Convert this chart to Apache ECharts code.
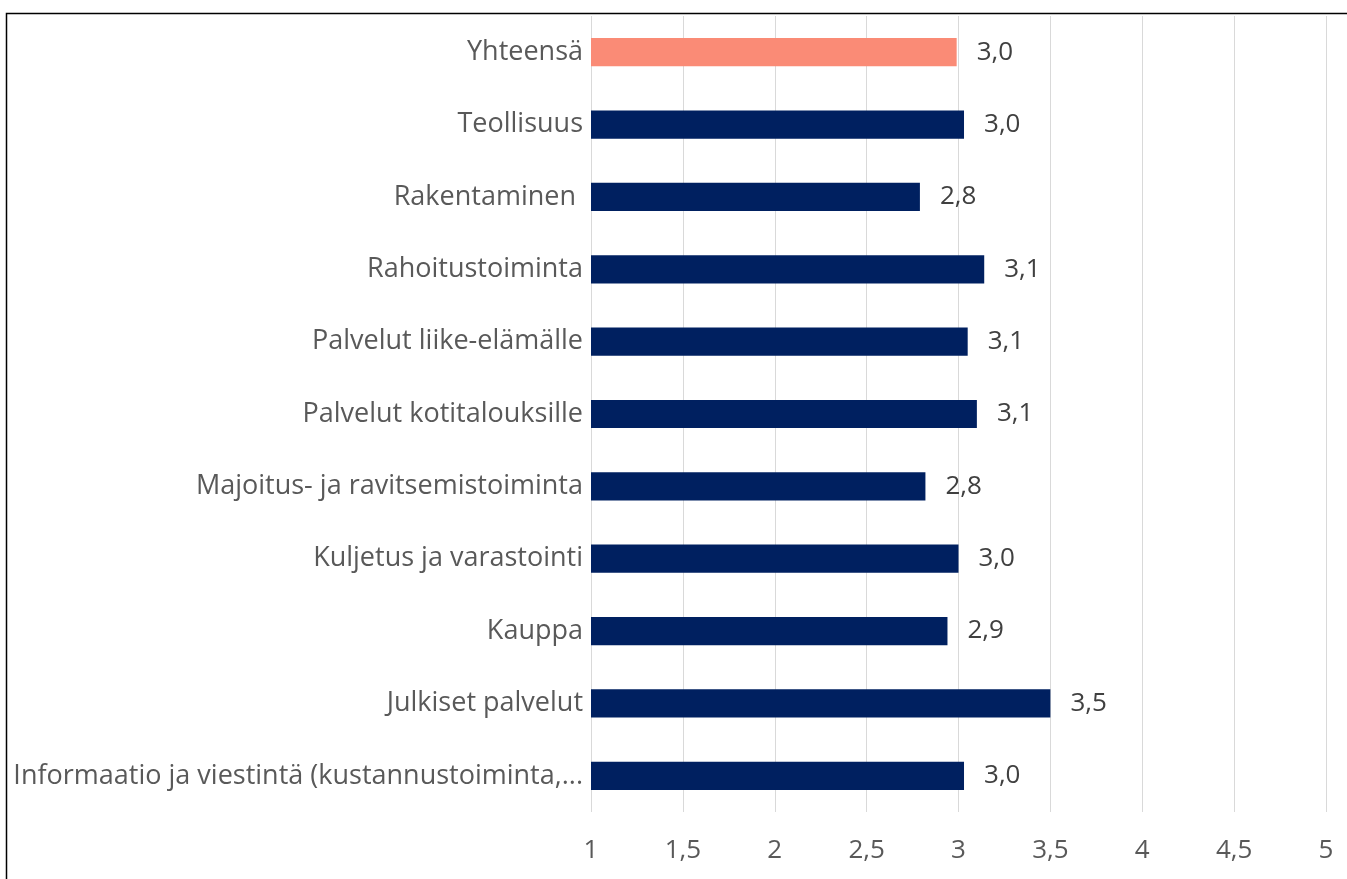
<!DOCTYPE html>
<html><head><meta charset="utf-8">
<script src="https://cdn.jsdelivr.net/npm/echarts@6/dist/echarts.min.js"></script>
<style>html,body{margin:0;padding:0;background:#fff;}#c{width:1347px;height:879px;}</style>
</head><body><div id="c"></div>
<script>
const categories = ["Yhteensä","Teollisuus","Rakentaminen ","Rahoitustoiminta","Palvelut liike-elämälle","Palvelut kotitalouksille","Majoitus- ja ravitsemistoiminta","Kuljetus ja varastointi","Kauppa","Julkiset palvelut","Informaatio ja viestintä (kustannustoiminta,..."];
const values = [2.99, 3.03, 2.79, 3.14, 3.05, 3.10, 2.82, 3.00, 2.94, 3.50, 3.03];
const valueLabels = ["3,0","3,0","2,8","3,1","3,1","3,1","2,8","3,0","2,9","3,5","3,0"];
const tickLabels = {"1":"1","1.5":"1,5","2":"2","2.5":"2,5","3":"3","3.5":"3,5","4":"4","4.5":"4,5","5":"5"};
const barColors = ["#FA8B76","#002060","#002060","#002060","#002060","#002060","#002060","#002060","#002060","#002060","#002060"];

const FONT = "'Open Sans', sans-serif";
const chart = echarts.init(document.getElementById('c'));
chart.setOption({
  animation: false,
  backgroundColor: '#fff',
  graphic: [{type:'rect', shape:{x:6.5,y:13.5,width:1400,height:1000}, style:{fill:'none',stroke:'#000',lineWidth:1.5}, z:-1}],
  grid: {left:591, right:21, top:16, bottom:67, containLabel:false},
  xAxis: {
    type:'value', min:1, max:5, interval:0.5,
    axisLine:{show:false}, axisTick:{show:false},
    splitLine:{show:true, lineStyle:{color:'#d9d9d9', width:1}},
    axisLabel:{margin:26, color:'#595959', fontFamily:FONT, fontSize:26,
      formatter:v=>tickLabels[String(v)] ?? String(v).replace('.',',')}
  },
  yAxis: {
    type:'category', data:categories, inverse:true,
    axisLine:{show:false}, axisTick:{show:false},
    axisLabel:{margin:8, color:'#595959', fontFamily:FONT, fontSize:27}
  },
  series: [{
    type:'bar',
    data: values.map((v,i)=>({value:v, itemStyle:{color:barColors[i]}})),
    barCategoryGap:'61%',
    label:{show:true, position:'right', distance:20, color:'#404040', fontFamily:FONT, fontSize:26,
      formatter:p=>valueLabels[p.dataIndex]}
  }]
});
</script></body></html>
